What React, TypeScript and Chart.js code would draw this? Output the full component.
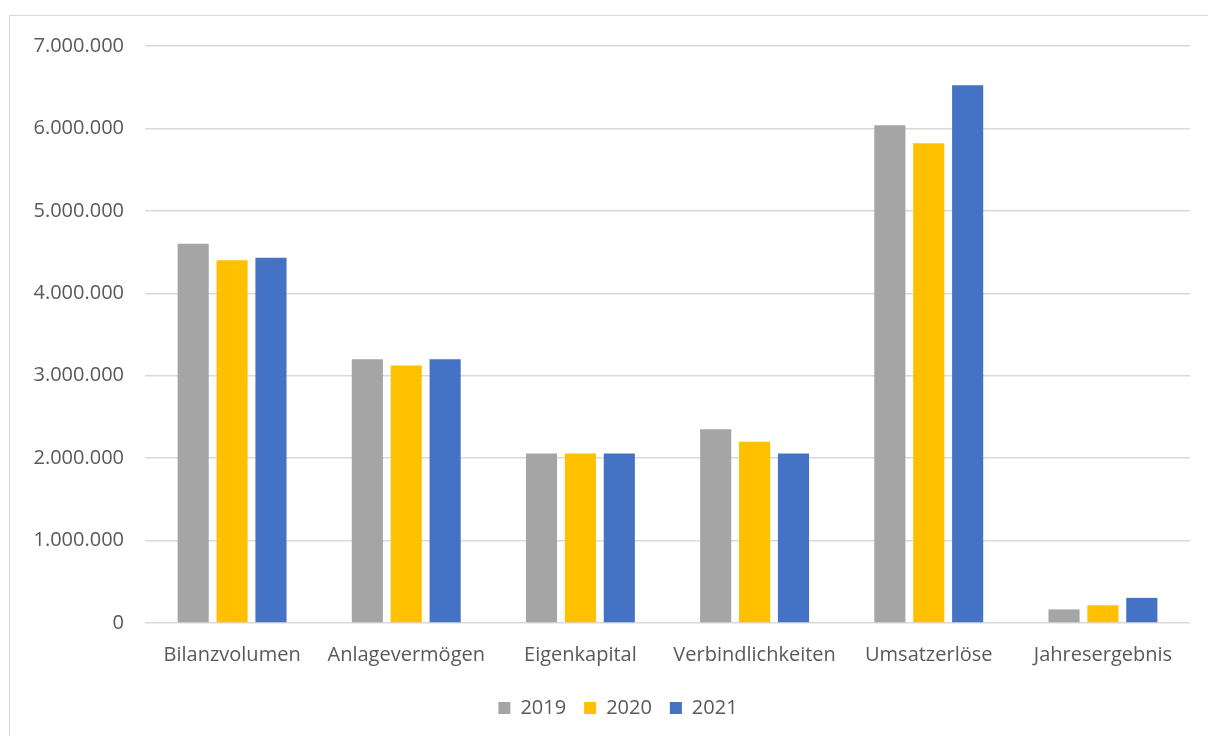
import React, { useEffect, useRef } from "react";
import { Chart, registerables } from "chart.js";

Chart.register(...registerables);

const categories = [
  "Bilanzvolumen",
  "Anlagevermögen",
  "Eigenkapital",
  "Verbindlichkeiten",
  "Umsatzerlöse",
  "Jahresergebnis",
];
const values2019 = [4600000, 3200000, 2055000, 2350000, 6040000, 165000];
const values2020 = [4400000, 3125000, 2055000, 2200000, 5820000, 215000];
const values2021 = [4430000, 3200000, 2055000, 2055000, 6525000, 305000];
const seriesLabels = ["2019", "2020", "2021"];
const seriesColors = ["#a5a5a5", "#ffc000", "#4472c4"];

function formatDe(v: number): string {
  const s = Math.round(v).toString();
  return s.replace(/\B(?=(\d{3})+(?!\d))/g, ".");
}

const legendShift = {
  id: "legendShift",
  afterLayout(chart: any) {
    const l = chart.legend;
    if (l) {
      l.left += 23;
      l.right += 23;
    }
  },
};

export default function App() {
  const ref = useRef<HTMLCanvasElement>(null);
  useEffect(() => {
    if (!ref.current) return;
    const font = { family: "'Open Sans', sans-serif", size: 20 };
    const chart = new Chart(ref.current, {
      type: "bar",
      data: {
        labels: categories,
        datasets: [values2019, values2020, values2021].map((d, i) => ({
          label: seriesLabels[i],
          data: d,
          backgroundColor: seriesColors[i],
          borderWidth: 0,
          barPercentage: 0.8,
          categoryPercentage: 0.67,
        })),
      },
      plugins: [legendShift],
      options: {
        responsive: false,
        animation: false,
        maintainAspectRatio: false,
        layout: { padding: { top: 46, right: 18, bottom: 8, left: 0 } },
        plugins: {
          tooltip: { enabled: false },
          legend: {
            position: "bottom",
            labels: {
              boxWidth: 12,
              boxHeight: 12,
              padding: 18,
              color: "#595959",
              font,
            },
          },
        },
        scales: {
          x: {
            afterFit: (s: any) => {
              s.height = 57;
            },
            grid: { display: false, drawTicks: false },
            border: { display: false },
            ticks: { color: "#595959", font, padding: 20, maxRotation: 0, autoSkip: false },
          },
          y: {
            min: 0,
            max: 7000000,
            afterFit: (s: any) => {
              s.width = 145;
            },
            grid: { color: "#d9d9d9", lineWidth: 1.5, drawTicks: false },
            border: { display: false },
            ticks: {
              stepSize: 1000000,
              color: "#595959",
              font,
              padding: 21,
              callback: (v: any) => formatDe(Number(v)),
            },
          },
        },
      },
    });
    return () => chart.destroy();
  }, []);
  return (
    <div style={{ position: "fixed", left: 0, top: 0, width: 1208, height: 736, background: "#fff", overflow: "hidden" }}>
      <div
        style={{
          position: "absolute",
          left: 9,
          top: 15,
          width: 1220,
          height: 740,
          border: "1.5px solid #d9d9d9",
          boxSizing: "border-box",
        }}
      />
      <canvas ref={ref} width={1208} height={736} style={{ position: "absolute", left: 0, top: 0 }} />
    </div>
  );
}
